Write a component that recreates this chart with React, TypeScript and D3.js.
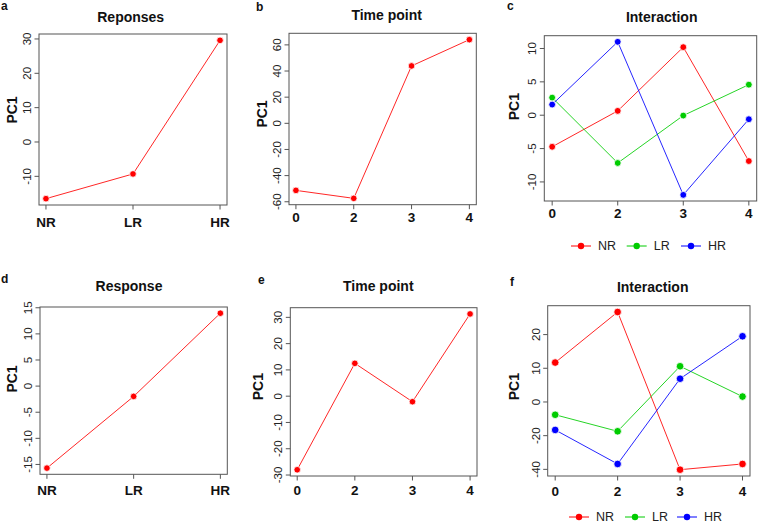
import React from "react";
import * as d3 from "d3";

const responseCats = ["NR", "LR", "HR"];
const timeCats = ["0", "2", "3", "4"];
const seriesNames = ["NR", "LR", "HR"];
const seriesColors = ["#ff0000", "#00cc00", "#0000ff"];

const aValues = [-16.5, -9.3, 29.6];
const bValues = [-51.3, -57.4, 43.9, 64.0];
const cNR = [-4.73, 0.65, 10.2, -6.87];
const cLR = [2.64, -7.16, -0.05, 4.58];
const cHR = [1.6, 11.0, -11.94, -0.6];
const dValues = [-15.7, -1.97, 13.96];
const eValues = [-28.0, 12.5, -2.1, 31.3];
const fNR = [11.7, 26.7, -20.1, -18.4];
const fLR = [-3.8, -8.7, 10.6, 1.6];
const fHR = [-8.3, -18.4, 6.9, 19.5];

const aTicks = [-10, 0, 10, 20, 30];
const bTicks = [-60, -40, -20, 0, 20, 40, 60];
const cTicks = [-10, -5, 0, 5, 10];
const dTicks = [-15, -10, -5, 0, 5, 10, 15];
const eTicks = [-30, -20, -10, 0, 10, 20, 30];
const fTicks = [-20, -10, 0, 10, 20];
const fTickLabels = ["-40", "-20", "0", "10", "20"];

const FONT = "'Liberation Sans', Arial, Helvetica, sans-serif";

type Series = { values: number[]; color: string };
type PanelProps = {
  box: [number, number, number, number];
  cats: string[];
  series: Series[];
  ticks: number[];
  tickLabels?: string[];
  title: string;
  titlePos: [number, number];
  letter: string;
  letterPos: [number, number];
  ylabPos: [number, number];
  xlabY: number;
  r: number;
};

function Panel(p: PanelProps) {
  const [x0, x1, y0, y1] = p.box;
  const n = p.cats.length;
  const xr = (n - 1) * 0.04;
  const x = d3.scaleLinear().domain([-xr, n - 1 + xr]).range([x0, x1]);
  const all = p.series.flatMap((s) => s.values);
  const [mn, mx] = d3.extent(all) as [number, number];
  const pad = (mx - mn) * 0.04;
  const y = d3.scaleLinear().domain([mn - pad, mx + pad]).range([y1, y0]);
  const line = d3
    .line<number>()
    .x((_, i) => x(i))
    .y((v) => y(v));
  return (
    <g>
      <text x={p.letterPos[0]} y={p.letterPos[1]} fontFamily={FONT} fontWeight="bold" fontSize={12} fill="#111" dominantBaseline="central">
        {p.letter}
      </text>
      <text x={p.titlePos[0]} y={p.titlePos[1]} fontFamily={FONT} fontWeight="bold" fontSize={14} fill="#111" textAnchor="middle" dominantBaseline="central">
        {p.title}
      </text>
      <text
        transform={`translate(${p.ylabPos[0]},${p.ylabPos[1]}) rotate(-90)`}
        fontFamily={FONT}
        fontWeight="bold"
        fontSize={14}
        fill="#111"
        textAnchor="middle"
        dominantBaseline="central"
      >
        PC1
      </text>
      {p.ticks.map((t, i) => (
        <g key={"yt" + i}>
          <line x1={x0 - 4.5} x2={x0} y1={y(t)} y2={y(t)} stroke="#555" />
          <text
            transform={`translate(${x0 - 12},${y(t)}) rotate(-90)`}
            fontFamily={FONT}
            fontSize={11.5}
            fill="#222"
            textAnchor="middle"
            dominantBaseline="central"
          >
            {p.tickLabels ? p.tickLabels[i] : String(t)}
          </text>
        </g>
      ))}
      {p.cats.map((c, i) => (
        <g key={"xt" + i}>
          <line x1={x(i)} x2={x(i)} y1={y1} y2={y1 + 4.5} stroke="#555" />
          <text x={x(i)} y={p.xlabY} fontFamily={FONT} fontWeight="bold" fontSize={13.5} fill="#111" textAnchor="middle" dominantBaseline="central">
            {c}
          </text>
        </g>
      ))}
      <rect x={x0} y={y0} width={x1 - x0} height={y1 - y0} fill="none" stroke="#555" strokeWidth={1} />
      {p.series.map((s, si) => (
        <g key={"s" + si}>
          <path d={line(s.values) || ""} fill="none" stroke={s.color} strokeWidth={1} strokeOpacity={0.85} />
          {s.values.map((v, i) => (
            <circle key={i} cx={x(i)} cy={y(v)} r={p.r} fill={s.color} stroke="#fff" strokeWidth={0.8} />
          ))}
        </g>
      ))}
    </g>
  );
}

function Legend({ cx, cy }: { cx: number[]; cy: number }) {
  return (
    <g>
      {seriesNames.map((nm, i) => (
        <g key={nm}>
          <line x1={cx[i] - 10} x2={cx[i] + 10} y1={cy} y2={cy} stroke={seriesColors[i]} strokeWidth={1} />
          <circle cx={cx[i]} cy={cy} r={3.2} fill={seriesColors[i]} />
          <text x={cx[i] + 17} y={cy} fontFamily={FONT} fontSize={12.5} fill="#222" dominantBaseline="central">
            {nm}
          </text>
        </g>
      ))}
    </g>
  );
}

export default function App() {
  return (
    <svg width={758} height={524} style={{ position: "absolute", left: 0, top: 0, background: "#fff" }}>
      <rect x={0} y={0} width={758} height={524} fill="#fff" />
      <Panel
        box={[39, 227, 34, 205]}
        cats={responseCats}
        series={[{ values: aValues, color: seriesColors[0] }]}
        ticks={aTicks}
        title="Reponses"
        titlePos={[130.7, 17]}
        letter="a"
        letterPos={[1, 6]}
        ylabPos={[12, 110]}
        xlabY={222}
        r={3.3}
      />
      <Panel
        box={[289, 476.3, 33.3, 204.7]}
        cats={timeCats}
        series={[{ values: bValues, color: seriesColors[0] }]}
        ticks={bTicks}
        title="Time point"
        titlePos={[386.7, 15]}
        letter="b"
        letterPos={[256, 6.5]}
        ylabPos={[261.7, 114]}
        xlabY={217}
        r={3.3}
      />
      <Panel
        box={[544.3, 756.7, 35.7, 201]}
        cats={timeCats}
        series={[
          { values: cNR, color: seriesColors[0] },
          { values: cLR, color: seriesColors[1] },
          { values: cHR, color: seriesColors[2] },
        ]}
        ticks={cTicks}
        title="Interaction"
        titlePos={[661.7, 17.3]}
        letter="c"
        letterPos={[507, 6]}
        ylabPos={[514, 106.7]}
        xlabY={213.5}
        r={3.4}
      />
      <Legend cx={[581, 636.7, 691]} cy={246} />
      <Panel
        box={[40, 227.3, 307, 474.3]}
        cats={responseCats}
        series={[{ values: dValues, color: seriesColors[0] }]}
        ticks={dTicks}
        title="Response"
        titlePos={[129, 285.7]}
        letter="d"
        letterPos={[1, 279]}
        ylabPos={[12.3, 379]}
        xlabY={490}
        r={3.3}
      />
      <Panel
        box={[290.3, 477, 307.7, 476]}
        cats={timeCats}
        series={[{ values: eValues, color: seriesColors[0] }]}
        ticks={eTicks}
        title="Time point"
        titlePos={[378.3, 285.7]}
        letter="e"
        letterPos={[258, 280]}
        ylabPos={[258.3, 386.7]}
        xlabY={490}
        r={3.3}
      />
      <Panel
        box={[547.7, 750, 305.7, 476]}
        cats={timeCats}
        series={[
          { values: fNR, color: seriesColors[0] },
          { values: fLR, color: seriesColors[1] },
          { values: fHR, color: seriesColors[2] },
        ]}
        ticks={fTicks}
        tickLabels={fTickLabels}
        title="Interaction"
        titlePos={[652.7, 286.7]}
        letter="f"
        letterPos={[510, 281.7]}
        ylabPos={[514, 386.7]}
        xlabY={491}
        r={3.8}
      />
      <Legend cx={[579, 635, 687]} cy={517} />
    </svg>
  );
}
